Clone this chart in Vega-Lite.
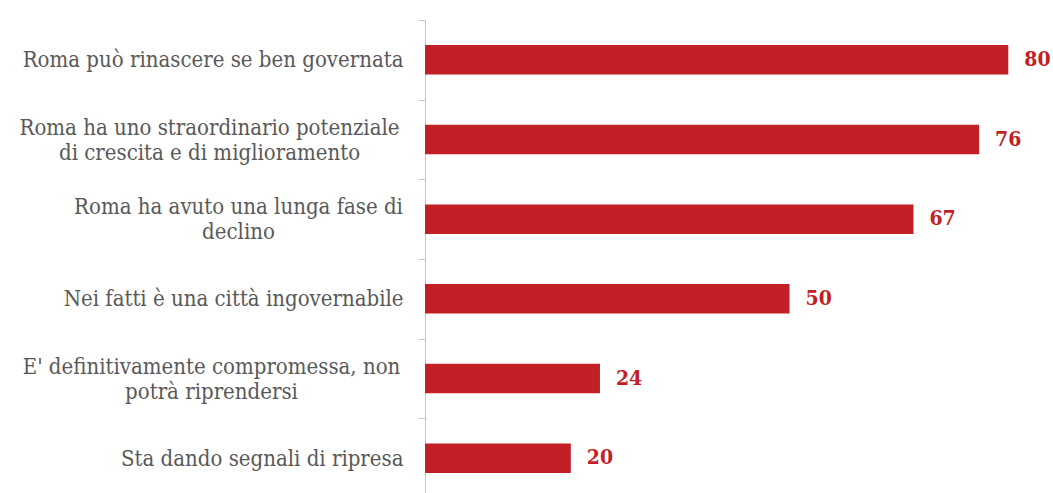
{
  "$schema": "https://vega.github.io/schema/vega-lite/v6.json",
  "autosize": "none",
  "width": 627,
  "height": 478,
  "padding": {"left": 425, "top": 20, "right": 1, "bottom": 0},
  "background": "white",
  "config": {"view": {"stroke": null}},
  "data": {"values": [
    {"label": "Roma può rinascere se ben governata", "value": 80},
    {"label": "Roma ha uno straordinario potenziale|di crescita e di miglioramento", "value": 76},
    {"label": "Roma ha avuto una lunga fase di|declino", "value": 67},
    {"label": "Nei fatti è una città ingovernabile", "value": 50},
    {"label": "E' definitivamente compromessa, non|potrà riprendersi", "value": 24},
    {"label": "Sta dando segnali di ripresa", "value": 20}
  ]},
  "encoding": {
    "y": {
      "field": "label", "type": "nominal", "sort": "-x",
      "scale": {"paddingInner": 0, "paddingOuter": 0},
      "axis": {
        "title": null,
        "labelExpr": "isValid(datum.value) ? split(datum.value, '|') : ''",
        "labelFont": "DejaVu Serif Condensed",
        "labelFontSize": 22,
        "labelColor": "#595959",
        "labelLineHeight": 25,
        "labelLimit": 600,
        "labelAlign": {"condition": {"test": "isString(datum.value) && indexof(datum.value, '|') >= 0", "value": "center"}, "value": "right"},
        "labelOffset": {"condition": {"test": "isString(datum.value) && indexof(datum.value, '|') >= 0", "value": -12.5}, "value": 0},
        "labelPadding": {"condition": [
          {"test": "isString(datum.value) && indexof(datum.value, 'straordinario') >= 0", "value": 209},
          {"test": "isString(datum.value) && indexof(datum.value, 'declino') >= 0", "value": 180},
          {"test": "isString(datum.value) && indexof(datum.value, 'compromessa') >= 0", "value": 207}
        ], "value": 15},
        "tickBand": "extent",
        "tickSize": 7,
        "tickColor": "#c8c8c8",
        "domainColor": "#c8c8c8",
        "grid": false
      }
    },
    "x": {
      "field": "value", "type": "quantitative",
      "scale": {"domain": [0, 86]},
      "axis": null
    }
  },
  "layer": [
    {"mark": {"type": "bar", "color": "#C21F26", "height": {"band": 0.37}}},
    {"mark": {"type": "text", "align": "left", "baseline": "middle", "dx": 16, "font": "DejaVu Serif Condensed", "fontWeight": "bold", "fontSize": 21, "color": "#C21F26"},
     "encoding": {"text": {"field": "value", "type": "quantitative"}}}
  ]
}
